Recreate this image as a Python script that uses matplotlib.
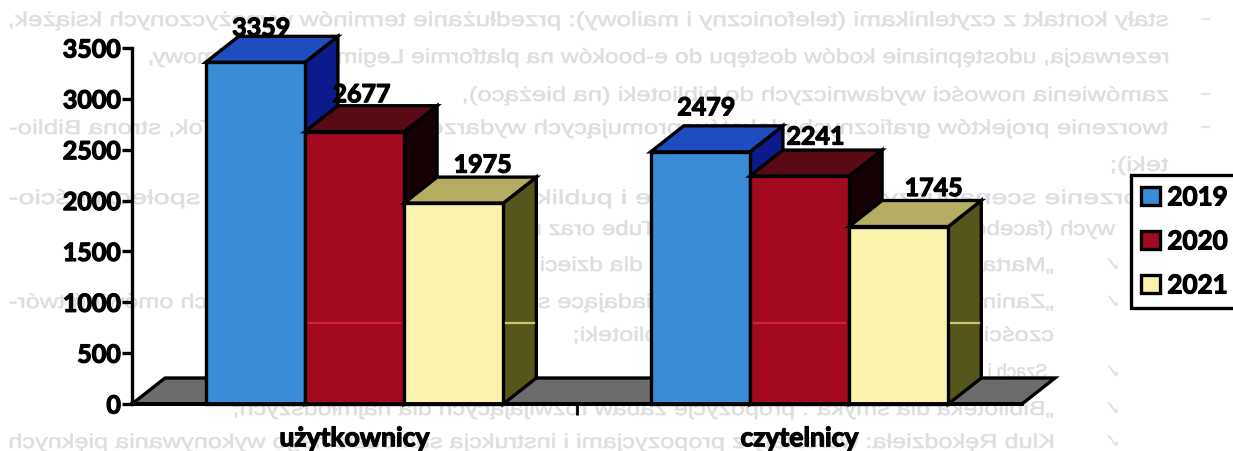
import matplotlib
matplotlib.use("Agg")
import matplotlib.pyplot as plt
import matplotlib.patheffects as pe
from matplotlib.patches import Patch, Polygon, PathPatch
from matplotlib.textpath import TextPath
from matplotlib.font_manager import FontProperties
from matplotlib.transforms import Affine2D

categories = ["użytkownicy", "czytelnicy"]
years = ["2019", "2020", "2021"]
values_2019 = [3359, 2479]
values_2020 = [2677, 2241]
values_2021 = [1975, 1745]
y_ticks = [0, 500, 1000, 1500, 2000, 2500, 3000, 3500]

# Bleed-through text of the reverse page: line, centre y, right px, left px
ghost_lines = [
    ("stały kontakt z czytelnikami (telefoniczny i mailowy): przedłużanie terminów wypożyczonych książek,", 20, 1168, 10),
    ("rezerwacja, udostępnianie kodów dostępu do e-booków na platformie Legimi i serwis filmowy,", 57, 1168, 150),
    ("zamówienia nowości wydawniczych do biblioteki (na bieżąco),", 95, 1168, 464),
    ("tworzenie projektów graficznych plakatów promujących wydarzenia (Facebook, TikTok, strona Biblio-", 128, 1168, 10),
    ("teki);", 165, 1168, 1112),
    ("tworzenie scenariuszy wideo, nagrywanie i publikowanie filmów w mediach społecznościo-", 198, 1168, 10),
    ("wych (facebook, instagram), na kanale YouTube oraz na stronie internetowej:", 229, 1115, 295),
    ("„Marta czyta...” : czytanie książeczek dla dzieci;", 265, 1053, 535),
    ("„Zanim się spotkamy”: wideo zapowiadające spotkania autorskie, cykl krótkich omówień twór-", 302, 1053, 10),
    ("czości autorów zaproszonych do Biblioteki;", 335, 1053, 575),
    ("„Szach i mat, Mościwy Królu”: szachy;", 372, 1053, 747),
    ("„Biblioteka dla smyka”: propozycje zabaw rozwijających dla najmłodszych;", 409, 1053, 235),
    ("Klub Rękodzieła: warsztaty z propozycjami i instrukcja samodzielnego wykonywania pięknych", 442, 1053, 10),
]
ghost_checks = [265, 302, 372, 409, 442]
ghost_dashes = [20, 95, 128]

front = ["#3a8cd6", "#a30a1f", "#fbf3ab"]
top = ["#1f4dbf", "#5a0a14", "#b5ad62"]
side = ["#0c1a8c", "#160205", "#55551c"]
streak_red = "#d92c3e"
streak_side = "#c9c96a"
floor_color = "#6c6c6c"

FONT = "Lato"
plt.rcParams["font.family"] = [FONT, "DejaVu Sans"]
PX = 72 / 100
BOLD = [pe.withStroke(linewidth=0.9, foreground="black")]

fig = plt.figure(figsize=(12.33, 4.52), dpi=100, facecolor="white")

# Background layer in image pixels for the show-through text
bg = fig.add_axes([0, 0, 1, 1], zorder=0)
bg.set_xlim(0, 1233)
bg.set_ylim(452, 0)
bg.axis("off")
fp = FontProperties(family="Liberation Sans")
ghost_col = "#dedede"
for line, y, xr, xl in ghost_lines:
    tp = TextPath((0, 0), line, size=20, prop=fp)
    bb = tp.get_extents()
    sx = (xr - xl) / bb.width
    tr = Affine2D().translate(-bb.x0, -7).scale(-sx, -1).translate(xr, y)
    bg.add_patch(PathPatch(tr.transform_path(tp), fc=ghost_col, ec=ghost_col, lw=0.4))
for y in ghost_checks:
    tp = TextPath((0, 0), "✓", size=20, prop=FontProperties(family="DejaVu Sans"))
    bb = tp.get_extents()
    tr = Affine2D().translate(-bb.x0, -7).scale(-1, -1).translate(1118, y)
    bg.add_patch(PathPatch(tr.transform_path(tp), fc=ghost_col, ec="none"))
for y in ghost_dashes:
    bg.plot([1202, 1209], [y, y], color="#e6e6e6", lw=1.5)

# Main chart
x0, x1, y0, y1 = 132, 1022, 405, 49
ax = fig.add_axes([x0 / 1233, 1 - y0 / 452, (x1 - x0) / 1233, (y0 - y1) / 452], zorder=1)
ax.patch.set_alpha(0)
ax.set_xlim(0, 2)
ax.set_ylim(0, 3500)

bar_w = 99.2 / 445
dx = 33 / 445
dy = 26 / (356 / 3500)
centers = [0.5, 1.5]
series = [values_2019, values_2020, values_2021]
EDGE = dict(edgecolor="black", linewidth=2.4, joinstyle="miter", clip_on=False)

ax.add_patch(Polygon([(0, 0), (2, 0), (2 + dx, dy), (dx, dy)], closed=True,
                     facecolor=floor_color, zorder=1, **EDGE))

z = 2
for c_i, c in enumerate(centers):
    for s_i, vals in enumerate(series):
        v = vals[c_i]
        l = c + (s_i - 1.5) * bar_w
        r = l + bar_w
        ax.add_patch(Polygon([(r, 0), (r + dx, dy), (r + dx, v + dy), (r, v)], closed=True,
                             facecolor=side[s_i], zorder=z, **EDGE))
        ax.add_patch(Polygon([(l, v), (r, v), (r + dx, v + dy), (l + dx, v + dy)], closed=True,
                             facecolor=top[s_i], zorder=z, **EDGE))
        ax.add_patch(Polygon([(l, 0), (r, 0), (r, v), (l, v)], closed=True,
                             facecolor=front[s_i], zorder=z, **EDGE))
        if s_i == 1:
            ax.plot([l + 0.01, r - 0.01], [795, 795], color=streak_red, lw=1.6, alpha=.8, zorder=z + .5)
        if s_i == 2:
            ax.plot([r + 0.005, r + dx - 0.005], [795, 795], color=streak_side, lw=1.6, zorder=z + .5)
        z += 1

# Value labels with their own offsets in pixels from the bar's front-top centre
label_offsets = {(0, 0): (6, 34), (0, 1): (7, 37), (0, 2): (29, 38),
                 (1, 0): (6, 44), (1, 1): (16, 39), (1, 2): (35, 38)}
for c_i, c in enumerate(centers):
    for s_i, vals in enumerate(series):
        ox, oy = label_offsets[(c_i, s_i)]
        ax.annotate(str(vals[c_i]), (c + (s_i - 1) * bar_w, vals[c_i]),
                    xytext=(ox, oy), textcoords="offset pixels",
                    ha="center", va="center", fontsize=25 * PX, fontweight="bold",
                    color="black", zorder=50, annotation_clip=False, path_effects=BOLD)

for sp in ["top", "right"]:
    ax.spines[sp].set_visible(False)
ax.spines["left"].set_linewidth(2.4)
ax.spines["bottom"].set_linewidth(2.8)
ax.spines["left"].set_zorder(40)
ax.spines["bottom"].set_zorder(40)
ax.set_yticks(y_ticks)
ax.set_yticklabels([str(t) for t in y_ticks], fontsize=25 * PX, fontweight="bold", path_effects=BOLD)
ax.tick_params(axis="y", length=7, width=2.4, pad=1)
ax.set_xticks([1])
ax.set_xticklabels([""])
ax.tick_params(axis="x", which="major", length=8, width=2)
ax.set_xticks(centers, minor=True)
ax.set_xticklabels(categories, minor=True, fontsize=26.5 * PX, fontweight="bold", path_effects=BOLD)
ax.tick_params(axis="x", which="minor", length=0, pad=16)

handles = [Patch(facecolor=front[i], edgecolor="black", linewidth=2.4, label=years[i]) for i in range(3)]
leg = fig.legend(handles=handles, loc="upper left",
                 bbox_to_anchor=(1131 / 1233, 1 - 176 / 452), borderaxespad=0,
                 prop=dict(family=FONT, weight="bold", size=26 * PX),
                 frameon=True, fancybox=False, framealpha=1, edgecolor="black",
                 handlelength=0.7, handleheight=0.7, handletextpad=0.3,
                 labelspacing=0.77, borderpad=0.4)
leg.get_frame().set_linewidth(2.4)
leg.set_zorder(60)
for t in leg.get_texts():
    t.set_path_effects(BOLD)

fig.savefig("out.png", dpi=100, facecolor="white")
